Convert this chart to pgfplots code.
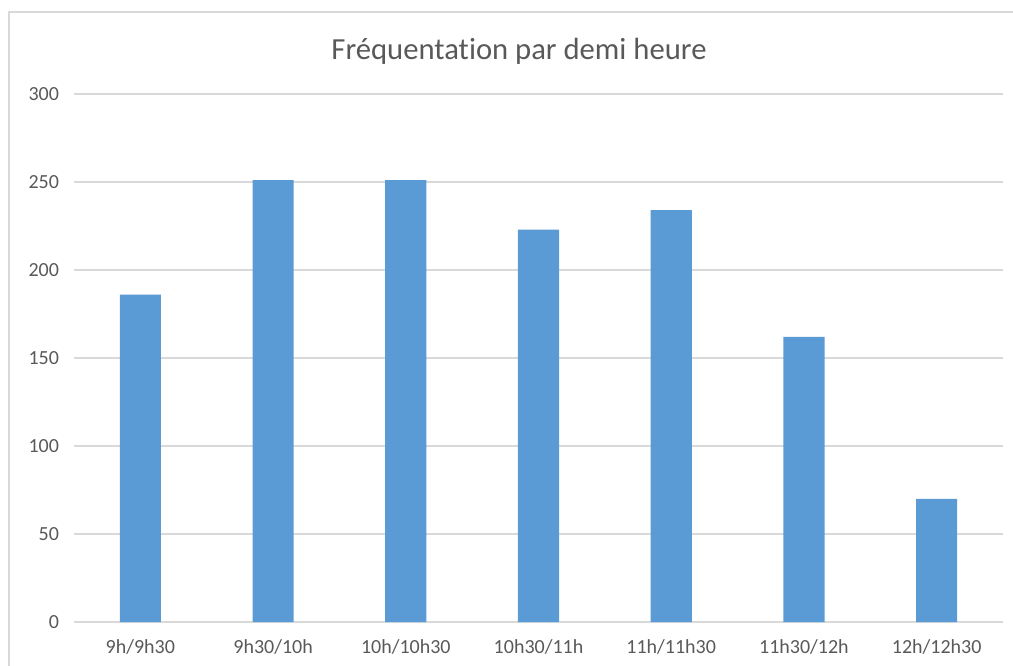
\documentclass[border=0pt]{standalone}
\usepackage{pgfplots}
\pgfplotsset{compat=1.18}
\usepackage{fontspec}
\setmainfont{Carlito}[Ligatures=NoCommon]
\definecolor{barblue}{HTML}{5B9BD5}
\definecolor{gridgray}{HTML}{D9D9D9}
\definecolor{textgray}{HTML}{595959}
\begin{document}
\begin{tikzpicture}[x=0.75pt,y=0.75pt]
\useasboundingbox (0,0) rectangle (1013,665);
\draw[gridgray, line width=1pt] (9,-10) rectangle (1030,653);
\node[textgray, font=\fontsize{23}{27}\selectfont] at (519,614) {Fréquentation par demi heure};
\begin{axis}[
  at={(55.5pt,32.25pt)}, anchor=south west,
  scale only axis, width=696.75pt, height=396pt,
  xmin=-0.5, xmax=6.5, ymin=0, ymax=300,
  ybar, bar width=0.31,
  xtick={0,...,6},
  xticklabels={9h/9h30,9h30/10h,10h/10h30,10h30/11h,11h/11h30,11h30/12h,12h/12h30},
  ytick={0,50,...,300},
  ymajorgrids, grid style={gridgray, line width=1pt},
  axis line style={draw=none},
  major tick length=0pt,
  tick label style={textgray, font=\fontsize{15}{18}\selectfont},
  /pgf/number format/assume math mode=true,
  yticklabel style={xshift=-7.75pt},
  xticklabel style={yshift=-10pt},
  extra y ticks={0}, extra y tick labels={},
  extra y tick style={grid style={gridgray, line width=1.2pt}},
]
\addplot[fill=barblue, draw=none] coordinates {(0,186) (1,251) (2,251) (3,223) (4,234) (5,162) (6,70)};
\end{axis}
\end{tikzpicture}
\end{document}
